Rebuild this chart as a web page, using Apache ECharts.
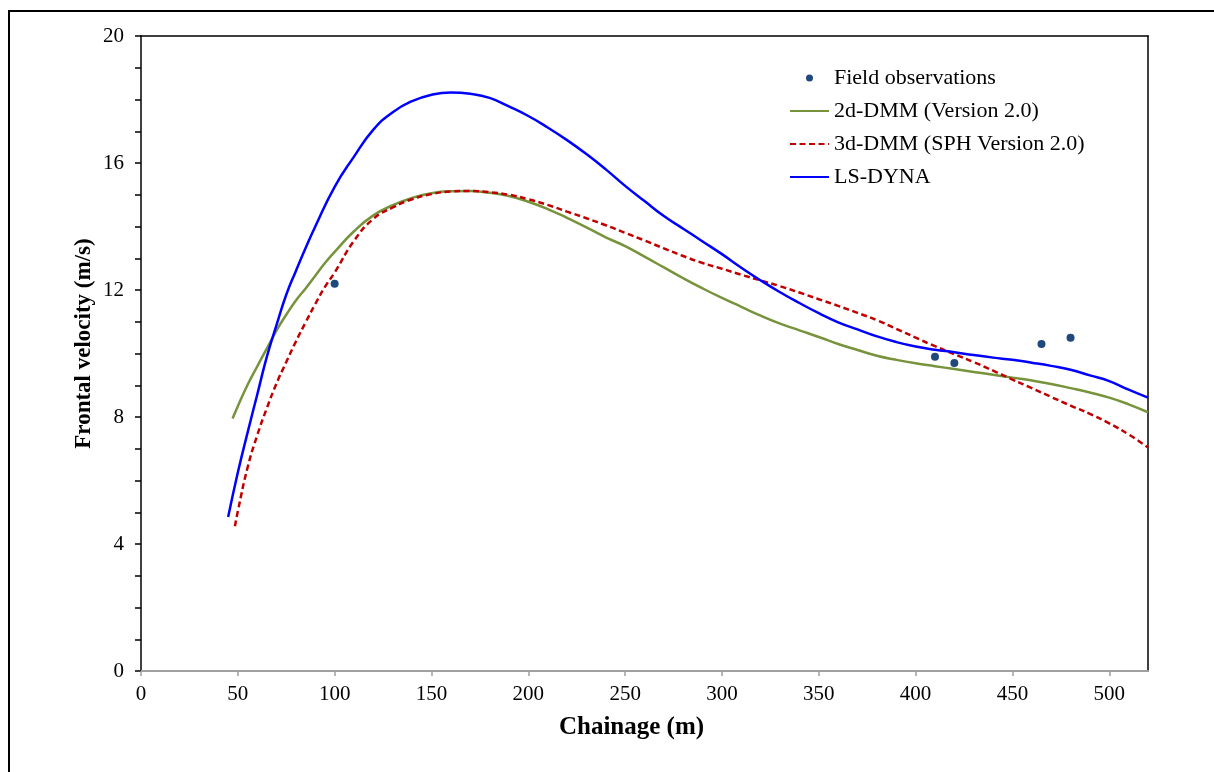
<!DOCTYPE html>
<html>
<head>
<meta charset="utf-8">
<script src="https://cdn.jsdelivr.net/npm/echarts@6/dist/echarts.min.js"></script>
<style>
html,body{margin:0;padding:0;background:#fff;}
#chart{width:1214px;height:772px;}
</style>
</head>
<body>
<div id="chart"></div>
<script>
// ---- Data ----
var xTicks = [0, 50, 100, 150, 200, 250, 300, 350, 400, 450, 500];
var yTicks = [0, 4, 8, 12, 16, 20];

var fieldObs = [[100, 12.2], [410, 9.9], [420, 9.7], [465, 10.3], [480, 10.5]];

var dmm2d = [[47.3, 7.95], [50, 8.34], [55, 9.01], [60, 9.59], [65, 10.16], [70, 10.73], [75, 11.22], [80, 11.67],
  [85, 12.05], [90, 12.45], [95, 12.85], [100, 13.2], [110, 13.85], [120, 14.35], [130, 14.67], [140, 14.9],
  [150, 15.05], [160, 15.11], [170, 15.12], [180, 15.06], [190, 14.96], [200, 14.78], [210, 14.55], [220, 14.27],
  [230, 13.97], [240, 13.66], [250, 13.38], [260, 13.05], [270, 12.71], [280, 12.37], [290, 12.05], [300, 11.75],
  [310, 11.47], [320, 11.19], [330, 10.94], [340, 10.73], [350, 10.52], [360, 10.3], [370, 10.11], [380, 9.93],
  [390, 9.8], [400, 9.69], [410, 9.6], [420, 9.51], [430, 9.42], [440, 9.33], [450, 9.24], [460, 9.15],
  [470, 9.04], [480, 8.91], [490, 8.77], [500, 8.61], [510, 8.4], [520, 8.15]];

var dmm3d = [[48.5, 4.56], [50, 5.03], [55, 6.4], [60, 7.42], [65, 8.28], [70, 9.06], [75, 9.73], [80, 10.38],
  [85, 10.98], [90, 11.56], [95, 12.1], [100, 12.55], [110, 13.55], [120, 14.24], [130, 14.6], [140, 14.86],
  [150, 15.02], [160, 15.1], [170, 15.12], [180, 15.08], [190, 15.0], [200, 14.86], [210, 14.68], [220, 14.47],
  [230, 14.26], [240, 14.04], [250, 13.8], [260, 13.56], [270, 13.31], [280, 13.07], [290, 12.85], [300, 12.67],
  [310, 12.48], [320, 12.3], [330, 12.12], [340, 11.92], [350, 11.71], [360, 11.5], [370, 11.28], [380, 11.05],
  [390, 10.78], [400, 10.5], [410, 10.23], [420, 9.98], [430, 9.73], [440, 9.46], [450, 9.18], [460, 8.91],
  [470, 8.63], [480, 8.36], [490, 8.1], [500, 7.8], [510, 7.45], [520, 7.04]];

var lsDyna = [[45, 4.85], [50, 6.25], [55, 7.5], [60, 8.7], [65, 9.9], [70, 10.9], [75, 11.85], [80, 12.6],
  [85, 13.32], [90, 14.0], [100, 15.25], [110, 16.2], [120, 17.05], [130, 17.6], [140, 17.95], [150, 18.15],
  [160, 18.22], [170, 18.18], [180, 18.05], [190, 17.78], [200, 17.48], [210, 17.12], [220, 16.72], [230, 16.28],
  [240, 15.8], [250, 15.28], [260, 14.8], [270, 14.33], [280, 13.93], [290, 13.53], [300, 13.13], [310, 12.7],
  [320, 12.3], [330, 11.93], [340, 11.59], [350, 11.27], [360, 10.98], [370, 10.76], [380, 10.54], [390, 10.36],
  [400, 10.22], [410, 10.12], [420, 10.04], [430, 9.95], [440, 9.87], [450, 9.8], [460, 9.71], [470, 9.61],
  [480, 9.49], [490, 9.31], [500, 9.13], [510, 8.86], [520, 8.61]];

var seriesNames = ['Field observations', '2d-DMM (Version 2.0)', '3d-DMM (SPH Version 2.0)', 'LS-DYNA'];

// ---- Chart ----
var FONT = '"Liberation Serif", "Times New Roman", serif';
var chart = echarts.init(document.getElementById('chart'), null, {renderer: 'canvas'});
var option = {
  backgroundColor: '#ffffff',
  animation: false,
  graphic: [{
    type: 'rect',
    shape: {x: 9, y: 11, width: 1400, height: 1000},
    style: {fill: 'none', stroke: '#000', lineWidth: 2},
    silent: true
  }],
  grid: {left: 141, right: 66, top: 36, bottom: 101},
  legend: {
    orient: 'vertical',
    left: 789,
    top: 67,
    padding: 0,
    itemWidth: 39,
    itemHeight: 7,
    itemGap: 11,
    data: [
      {name: seriesNames[0]},
      {name: seriesNames[1], itemStyle: {opacity: 0}},
      {name: seriesNames[2], itemStyle: {opacity: 0}},
      {name: seriesNames[3], itemStyle: {opacity: 0}}
    ],
    textStyle: {fontFamily: FONT, fontSize: 22, color: '#000'}
  },
  xAxis: [{
    type: 'value',
    min: 0, max: 520, interval: 50,
    name: 'Chainage (m)',
    nameLocation: 'middle',
    nameGap: 44,
    nameMoveOverlap: false,
    nameTextStyle: {fontFamily: FONT, fontSize: 25, fontWeight: 'bold', color: '#000', padding: [0, 26, 0, 0]},
    axisLine: {show: true, onZero: false, lineStyle: {color: '#a0a0a0', width: 2}},
    axisTick: {show: true, length: 5, lineStyle: {color: '#a0a0a0', width: 1.5}},
    axisLabel: {fontFamily: FONT, fontSize: 21, color: '#000', margin: 13, showMaxLabel: false,
      formatter: function (v) { return xTicks.indexOf(v) >= 0 ? String(v) : ''; }},
    splitLine: {show: false}
  }, {
    type: 'value',
    position: 'top',
    min: 0, max: 520,
    axisLine: {show: true, onZero: false, lineStyle: {color: '#000', width: 1.5}},
    axisTick: {show: false},
    axisLabel: {show: false},
    splitLine: {show: false}
  }],
  yAxis: [{
    type: 'value',
    min: 0, max: 20, interval: 4,
    name: 'Frontal velocity (m/s)',
    nameLocation: 'middle',
    nameGap: 45,
    nameMoveOverlap: false,
    nameRotate: 90,
    nameTextStyle: {fontFamily: FONT, fontSize: 23, fontWeight: 'bold', color: '#000', padding: [0, 0, 0, 20]},
    axisLine: {show: true, onZero: false, lineStyle: {color: '#000', width: 1.5}},
    axisTick: {show: true, length: 6, lineStyle: {color: '#000', width: 1.5}},
    minorTick: {show: true, splitNumber: 4, length: 6, lineStyle: {color: '#000', width: 1.5}},
    axisLabel: {fontFamily: FONT, fontSize: 21, color: '#000', margin: 17,
      formatter: function (v) { return yTicks.indexOf(v) >= 0 ? String(v) : ''; }},
    splitLine: {show: false},
    minorSplitLine: {show: false}
  }, {
    type: 'value',
    position: 'right',
    min: 0, max: 20,
    axisLine: {show: true, onZero: false, lineStyle: {color: '#000', width: 1.5}},
    axisTick: {show: false},
    axisLabel: {show: false},
    splitLine: {show: false}
  }],
  series: [{
    name: seriesNames[0],
    type: 'scatter',
    data: fieldObs,
    symbol: 'circle',
    symbolSize: 8,
    itemStyle: {color: '#1F497D', opacity: 1},
    z: 5
  }, {
    name: seriesNames[1],
    type: 'line',
    data: dmm2d,
    smooth: true,
    symbol: 'none',
    lineStyle: {color: '#77933C', width: 2.5},
    itemStyle: {color: '#77933C'},
    z: 2
  }, {
    name: seriesNames[2],
    type: 'line',
    data: dmm3d,
    smooth: true,
    symbol: 'none',
    lineStyle: {color: '#C00000', width: 2.5, type: [6, 3.5]},
    itemStyle: {color: '#C00000'},
    z: 3
  }, {
    name: seriesNames[3],
    type: 'line',
    data: lsDyna,
    smooth: true,
    symbol: 'none',
    lineStyle: {color: '#0000FF', width: 2.5},
    itemStyle: {color: '#0000FF'},
    z: 4
  }]
};
chart.setOption(option);
</script>
</body>
</html>
